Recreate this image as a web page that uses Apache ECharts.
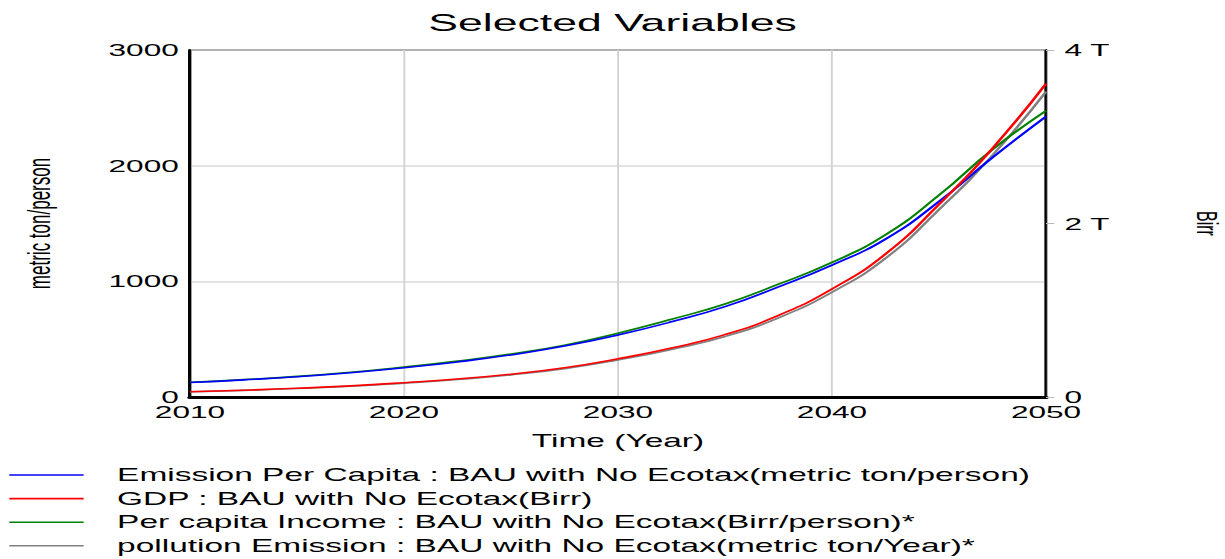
<!DOCTYPE html>
<html>
<head>
<meta charset="utf-8">
<script src="https://cdn.jsdelivr.net/npm/echarts@6/dist/echarts.min.js"></script>
<style>
  html, body { margin: 0; padding: 0; background: #fff; overflow: hidden; }
  #wrap { width: 1225px; height: 559px; overflow: hidden; }
  /* the chart is laid out narrow and widened horizontally, giving the wide lettering */
  #chart { width: 659px; height: 559px; transform: scaleX(1.8589); transform-origin: 0 0; }
</style>
</head>
<body>
<div id="wrap"><div id="chart"></div></div>
<script>
// Simulation years (Time, Year)
const years = [2010, 2012.5, 2015, 2017.5, 2020, 2022.5, 2025, 2027.5, 2030,
               2032.5, 2035, 2037.5, 2040, 2042.5, 2045, 2047.5, 2050];

// Emission Per Capita (metric ton/person), left axis
const emissionPerCapita = [125, 148, 175, 210, 253, 303, 364, 440, 536,
                           650, 781, 952, 1140, 1365, 1690, 2070, 2425];

// GDP (trillion Birr), right axis
const gdpTrillionBirr = [0.061, 0.078, 0.100, 0.128, 0.165, 0.208, 0.263, 0.337, 0.440,
                         0.565, 0.719, 0.941, 1.245, 1.648, 2.221, 2.867, 3.613];

// Per capita Income (Birr/person)*, scaled onto the left axis
const perCapitaIncome = [127, 150, 178, 214, 259, 310, 372, 448, 552,
                         672, 804, 975, 1163, 1403, 1745, 2140, 2475];

// pollution Emission (metric ton/Year)*, scaled onto the left axis
const pollutionEmission = [45, 57, 73, 93, 120, 151, 191, 245, 320,
                           411, 523, 685, 906, 1199, 1620, 2090, 2640];

const seriesNames = [
  'Emission Per Capita : BAU with No Ecotax(metric ton/person)',
  'GDP : BAU with No Ecotax(Birr)',
  'Per capita Income : BAU with No Ecotax(Birr/person)*',
  'pollution Emission : BAU with No Ecotax(metric ton/Year)*'
];

const xTicks = { min: 2010, max: 2050, interval: 10 };
const leftTicks = { min: 0, max: 3000, interval: 1000 };
const rightTicks = { min: 0, max: 4e12, interval: 2e12 };

const FONT = "'Liberation Sans', Arial, sans-serif";
const pairs = (vals, k) => years.map((y, i) => [y, vals[i] * (k || 1)]);

function line(name, data, color, axis, z) {
  return {
    name, type: 'line', yAxisIndex: axis, data, z,
    symbol: 'none', smooth: 0.5, color,
    lineStyle: { color, width: 1.6 },
    emphasis: { disabled: true }
  };
}

const chart = echarts.init(document.getElementById('chart'), null, { renderer: 'svg' });
chart.setOption({
  animation: false,
  backgroundColor: '#fff',
  title: {
    text: 'Selected Variables',
    left: 'center', top: 6,
    textStyle: { fontFamily: FONT, fontSize: 24, fontWeight: 'normal', color: '#000' }
  },
  grid: {
    left: 102.2, right: 96.3, top: 50, bottom: 162,
    outerBoundsMode: 'none', containLabel: false,
    show: true, borderColor: '#000', borderWidth: 1.4
  },
  legend: {
    orient: 'vertical', left: 5, top: 465, padding: 0, height: 94,
    icon: 'rect', itemWidth: 40, itemHeight: 1.6, itemGap: 3.6,
    selectedMode: false,
    textStyle: { fontFamily: FONT, fontSize: 18, color: '#000', lineHeight: 20, padding: [0, 0, 0, 13] },
    data: seriesNames
  },
  xAxis: {
    type: 'value', min: xTicks.min, max: xTicks.max, interval: xTicks.interval,
    name: 'Time (Year)', nameLocation: 'middle', nameGap: 35,
    nameTextStyle: { fontFamily: FONT, fontSize: 18, color: '#000' },
    axisLine: { show: true, lineStyle: { color: '#000', width: 3 } },
    axisTick: { show: false },
    axisLabel: { fontFamily: FONT, fontSize: 17, color: '#000', margin: 6, formatter: v => String(v) },
    splitLine: { show: true, lineStyle: { color: '#d2d2d2', width: 1 } }
  },
  yAxis: [
    {
      type: 'value', position: 'left',
      min: leftTicks.min, max: leftTicks.max, interval: leftTicks.interval,
      name: 'metric ton/person', nameLocation: 'middle', nameGap: 73, nameRotate: 90,
      nameTextStyle: { fontFamily: FONT, fontSize: 17, color: '#000' },
      axisLine: { show: true, lineStyle: { color: '#000', width: 1.7 } },
      axisTick: { show: false },
      axisLabel: { fontFamily: FONT, fontSize: 17, color: '#000', margin: 6, formatter: v => String(v) },
      splitLine: { show: true, lineStyle: { color: '#d9d9d9', width: 1.5 } }
    },
    {
      type: 'value', position: 'right',
      min: rightTicks.min, max: rightTicks.max, interval: rightTicks.interval,
      name: 'Birr', nameLocation: 'middle', nameGap: 79, nameRotate: -90,
      nameTextStyle: { fontFamily: FONT, fontSize: 16, color: '#000' },
      axisLine: { show: true, lineStyle: { color: '#000', width: 1.2 } },
      axisTick: { show: true, inside: false, length: 4.5, lineStyle: { color: '#bbb', width: 1 } },
      axisLabel: {
        fontFamily: FONT, fontSize: 17, color: '#000', margin: 10,
        formatter: v => v === 0 ? '0' : (v / 1e12) + ' T'
      },
      splitLine: { show: false }
    }
  ],
  series: [
    line(seriesNames[0], pairs(emissionPerCapita), '#0000ff', 0, 4),
    line(seriesNames[1], pairs(gdpTrillionBirr, 1e12), '#ff0000', 1, 5),
    line(seriesNames[2], pairs(perCapitaIncome), '#008000', 0, 3),
    line(seriesNames[3], pairs(pollutionEmission), '#808080', 0, 2)
  ]
});
</script>
</body>
</html>
